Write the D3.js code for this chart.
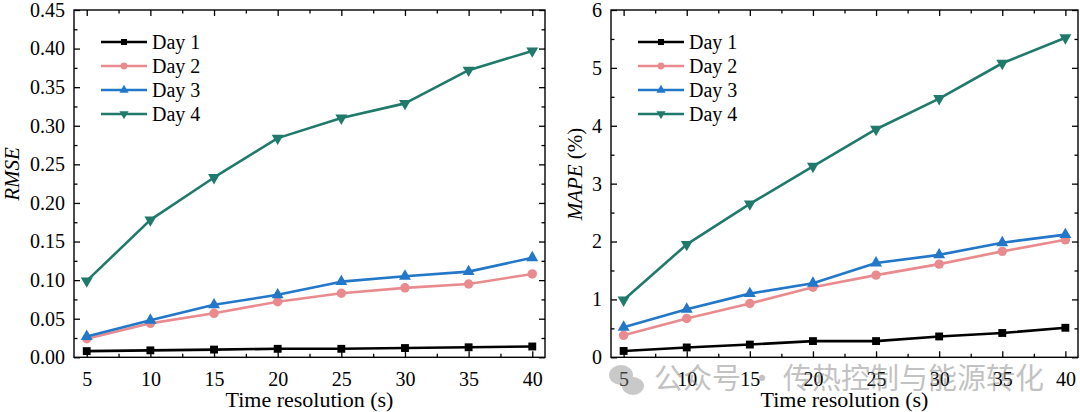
<!DOCTYPE html>
<html>
<head>
<meta charset="utf-8">
<script src="https://cdn.jsdelivr.net/npm/d3@7"></script>
<style>
  body { margin: 0; background: #fff; }
  svg { display: block; font-family: "Liberation Serif", "Times New Roman", serif; }
</style>
</head>
<body>
<svg id="chart" width="1080" height="412"></svg>
<script>
// x positions shared by both panels
const resolutions = [5, 10, 15, 20, 25, 30, 35, 40];
const dayNames = ["Day 1", "Day 2", "Day 3", "Day 4"];

// RMSE values
const rmseDay1 = [0.008, 0.009, 0.010, 0.011, 0.011, 0.012, 0.013, 0.014];
const rmseDay2 = [0.024, 0.044, 0.057, 0.072, 0.083, 0.090, 0.095, 0.108];
const rmseDay3 = [0.027, 0.048, 0.068, 0.081, 0.098, 0.105, 0.111, 0.129];
const rmseDay4 = [0.099, 0.178, 0.233, 0.284, 0.310, 0.329, 0.372, 0.397];

// MAPE (%) values
const mapeDay1 = [0.11, 0.17, 0.22, 0.28, 0.28, 0.36, 0.42, 0.51];
const mapeDay2 = [0.38, 0.67, 0.93, 1.21, 1.42, 1.61, 1.83, 2.03];
const mapeDay3 = [0.52, 0.83, 1.10, 1.28, 1.63, 1.77, 1.98, 2.12];
const mapeDay4 = [0.99, 1.95, 2.65, 3.30, 3.94, 4.47, 5.08, 5.52];

const rmseTicks = [0, 0.05, 0.10, 0.15, 0.20, 0.25, 0.30, 0.35, 0.40, 0.45];
const mapeTicks = [0, 1, 2, 3, 4, 5, 6];

const colors = ["#000000", "#e98b8e", "#2277c9", "#1f7a6b"];
const symbols = [d3.symbolSquare, d3.symbolCircle, d3.symbolTriangle, d3.symbolTriangle];

const svg = d3.select("#chart");

function drawPanel(opts) {
    const { left, right, top, bottom } = opts;
    const g = svg.append("g");

    const x = d3.scaleLinear().domain([4, 41]).range([left, right]);
    const y = d3.scaleLinear().domain(opts.yDomain).range([bottom, top]);

    const xMinor = d3.range(7.5, 40, 5);
    const yMinor = opts.yMinor;

    // bottom axis (ticks pointing in)
    g.append("g")
        .attr("transform", `translate(0,${bottom})`)
        .call(d3.axisBottom(x).tickValues(resolutions).tickSize(-6).tickPadding(15).tickFormat(d3.format("d")))
        .call(a => a.select(".domain").remove());
    g.append("g")
        .attr("transform", `translate(0,${bottom})`)
        .call(d3.axisBottom(x).tickValues(xMinor).tickSize(-3.5).tickFormat(""))
        .call(a => a.select(".domain").remove());
    // top axis
    g.append("g")
        .attr("transform", `translate(0,${top})`)
        .call(d3.axisTop(x).tickValues(resolutions).tickSize(-6).tickFormat(""))
        .call(a => a.select(".domain").remove());
    g.append("g")
        .attr("transform", `translate(0,${top})`)
        .call(d3.axisTop(x).tickValues(xMinor).tickSize(-3.5).tickFormat(""))
        .call(a => a.select(".domain").remove());
    // left axis
    g.append("g")
        .attr("transform", `translate(${left},0)`)
        .call(d3.axisLeft(y).tickValues(opts.yTicks).tickSize(-6).tickPadding(9).tickFormat(opts.yFormat))
        .call(a => a.select(".domain").remove());
    g.append("g")
        .attr("transform", `translate(${left},0)`)
        .call(d3.axisLeft(y).tickValues(yMinor).tickSize(-3.5).tickFormat(""))
        .call(a => a.select(".domain").remove());
    // right axis
    g.append("g")
        .attr("transform", `translate(${right},0)`)
        .call(d3.axisRight(y).tickValues(opts.yTicks).tickSize(-6).tickFormat(""))
        .call(a => a.select(".domain").remove());
    g.append("g")
        .attr("transform", `translate(${right},0)`)
        .call(d3.axisRight(y).tickValues(yMinor).tickSize(-3.5).tickFormat(""))
        .call(a => a.select(".domain").remove());

    g.selectAll(".tick line").attr("stroke", "#000").attr("stroke-width", 1.3);
    g.selectAll(".tick text")
        .attr("fill", "#000")
        .style("font-size", "20px")
        .style("font-family", "Liberation Serif, serif");

    g.append("rect")
        .attr("x", left).attr("y", top)
        .attr("width", right - left).attr("height", bottom - top)
        .attr("fill", "none").attr("stroke", "#000").attr("stroke-width", 1.4);

    const line = d3.line().x((d, i) => x(resolutions[i])).y(d => y(d));

    opts.series.forEach((vals, k) => {
        g.append("path")
            .datum(vals)
            .attr("fill", "none")
            .attr("stroke", colors[k])
            .attr("stroke-width", 2.6)
            .attr("stroke-linejoin", "round")
            .attr("d", line);
        g.selectAll(null)
            .data(vals)
            .enter()
            .append("path")
            .attr("d", d3.symbol(symbols[k], k === 1 ? 70 : 62))
            .attr("transform", (d, i) => `translate(${x(resolutions[i])},${y(d)})${k === 3 ? " rotate(180)" : ""}`)
            .attr("fill", colors[k]);
    });

    // legend
    const lg = g.append("g").attr("transform", `translate(${left + 27},${top + 32})`);
    dayNames.forEach((name, k) => {
        const row = lg.append("g").attr("transform", `translate(0,${k * 24})`);
        row.append("line")
            .attr("x1", 0).attr("x2", 46)
            .attr("stroke", colors[k]).attr("stroke-width", 2.6);
        row.append("path")
            .attr("d", d3.symbol(symbols[k], 36))
            .attr("transform", `translate(23,0)${k === 3 ? " rotate(180)" : ""}`)
            .attr("fill", colors[k]);
        row.append("text")
            .attr("x", 51).attr("y", 7)
            .style("font-size", "20px")
            .text(name);
    });

    // axis titles
    g.append("text")
        .attr("x", (left + right) / 2)
        .attr("y", 407)
        .attr("text-anchor", "middle")
        .style("font-size", "22px")
        .text("Time resolution (s)");

    const yt = g.append("text")
        .attr("transform", `translate(${opts.yTitleX},174) rotate(-90)`)
        .attr("text-anchor", "middle")
        .style("font-size", "21px");
    yt.append("tspan").style("font-style", "italic").text(opts.yTitle);
    if (opts.yUnit) yt.append("tspan").text(opts.yUnit);
}

drawPanel({
    left: 74, right: 545, top: 10, bottom: 357.3,
    yDomain: [0, 0.45],
    yTicks: rmseTicks,
    yMinor: d3.range(0.025, 0.45, 0.05),
    yFormat: d3.format(".2f"),
    yTitle: "RMSE", yUnit: "", yTitleX: 19,
    series: [rmseDay1, rmseDay2, rmseDay3, rmseDay4]
});

drawPanel({
    left: 611, right: 1078, top: 10, bottom: 357.3,
    yDomain: [0, 6],
    yTicks: mapeTicks,
    yMinor: d3.range(0.5, 6, 1),
    yFormat: d3.format("d"),
    yTitle: "MAPE", yUnit: " (%)", yTitleX: 582,
    series: [mapeDay1, mapeDay2, mapeDay3, mapeDay4]
});

// watermark overlaying the right panel
const wm = svg.append("g").attr("opacity", 0.45);
wm.append("ellipse").attr("cx", 621).attr("cy", 375).attr("rx", 12).attr("ry", 10).attr("fill", "#8a8a8a");
wm.append("ellipse").attr("cx", 633).attr("cy", 386).attr("rx", 11).attr("ry", 9).attr("fill", "#8a8a8a");
wm.append("text")
    .attr("x", 654).attr("y", 389)
    .attr("fill", "#7a7a7a")
    .style("font-family", "Noto Sans CJK SC, sans-serif")
    .style("font-size", "29px")
    .text("公众号 · 传热控制与能源转化");
</script>
</body>
</html>
